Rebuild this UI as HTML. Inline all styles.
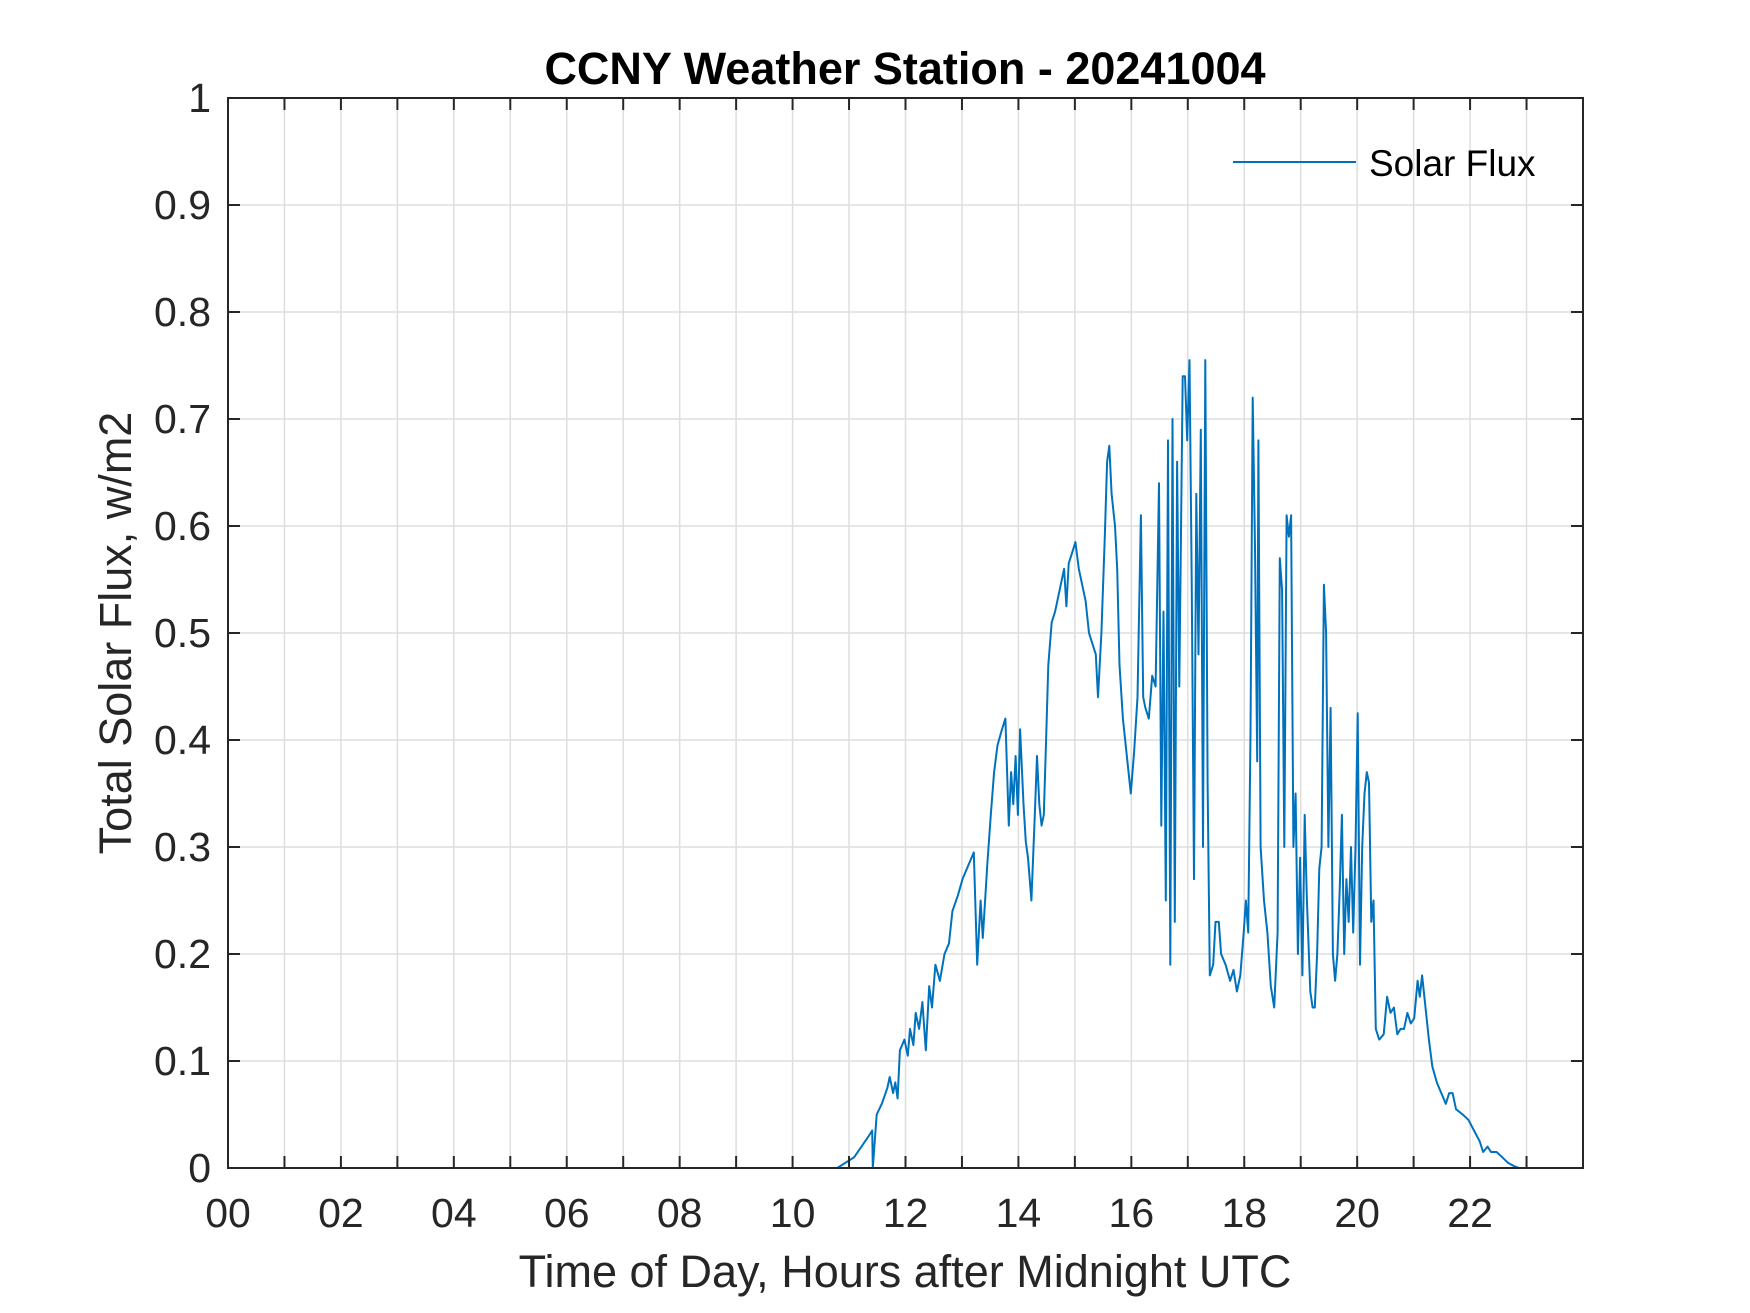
<!DOCTYPE html>
<html><head><meta charset="utf-8"><style>
html,body{margin:0;padding:0;background:#fff;}
svg{display:block;font-family:"Liberation Sans",Arial,sans-serif;}
</style></head><body>
<svg id="chart" width="1750" height="1313" viewBox="0 0 1750 1313">
<rect x="0" y="0" width="1750" height="1313" fill="#fff"/>
<g id="grid"></g>
<g id="series"></g>
<g id="axes"></g>
<text x="905" y="84" text-anchor="middle" font-size="45" font-weight="bold" fill="#000">CCNY Weather Station - 20241004</text>
<text x="905" y="1287" text-anchor="middle" font-size="45" fill="#262626">Time of Day, Hours after Midnight UTC</text>
<text transform="translate(131,633) rotate(-90)" text-anchor="middle" font-size="45" fill="#262626">Total Solar Flux, w/m2</text>
<g>
<line x1="1233" y1="162" x2="1356" y2="162" stroke="#0072BD" stroke-width="2"/>
<text x="1369" y="176" font-size="37" fill="#000">Solar Flux</text>
</g>
</svg>
<script>
const hours = [0,10.6,10.79,11.09,11.35,11.41,11.42,11.49,11.58,11.68,11.72,11.78,11.82,11.86,11.90,11.98,12.04,12.08,12.14,12.18,12.24,12.30,12.36,12.42,12.47,12.53,12.61,12.69,12.77,12.83,12.93,13.01,13.13,13.21,13.27,13.33,13.37,13.45,13.51,13.57,13.63,13.71,13.77,13.83,13.87,13.91,13.95,13.99,14.03,14.09,14.13,14.17,14.23,14.29,14.33,14.37,14.41,14.45,14.49,14.53,14.59,14.65,14.73,14.81,14.85,14.89,14.95,15.01,15.07,15.13,15.19,15.25,15.31,15.37,15.41,15.47,15.53,15.57,15.61,15.65,15.71,15.75,15.79,15.85,15.93,15.99,16.05,16.11,16.17,16.21,16.25,16.31,16.37,16.43,16.49,16.53,16.57,16.61,16.65,16.69,16.73,16.77,16.81,16.85,16.91,16.95,16.99,17.03,17.07,17.11,17.15,17.19,17.23,17.27,17.31,17.35,17.39,17.45,17.49,17.55,17.59,17.67,17.75,17.81,17.87,17.93,17.99,18.03,18.07,18.11,18.15,18.19,18.23,18.25,18.29,18.35,18.41,18.47,18.53,18.59,18.63,18.67,18.71,18.75,18.79,18.83,18.87,18.91,18.95,18.99,19.03,19.07,19.11,19.17,19.21,19.25,19.29,19.33,19.37,19.41,19.45,19.49,19.53,19.57,19.61,19.65,19.69,19.73,19.77,19.81,19.85,19.89,19.93,19.97,20.01,20.05,20.09,20.13,20.17,20.21,20.25,20.29,20.33,20.39,20.47,20.53,20.59,20.65,20.71,20.77,20.83,20.89,20.95,21.01,21.07,21.11,21.15,21.21,21.27,21.33,21.41,21.49,21.57,21.63,21.69,21.75,21.87,21.97,22.07,22.17,22.23,22.31,22.37,22.47,22.57,22.67,22.77,22.87,24];
const flux = [0,0,0,0.01,0.03,0.035,0,0.05,0.06,0.075,0.085,0.07,0.08,0.065,0.11,0.12,0.105,0.13,0.115,0.145,0.13,0.155,0.11,0.17,0.15,0.19,0.175,0.2,0.21,0.24,0.255,0.27,0.285,0.295,0.19,0.25,0.215,0.285,0.33,0.37,0.395,0.41,0.42,0.32,0.37,0.34,0.385,0.33,0.41,0.34,0.305,0.29,0.25,0.33,0.385,0.34,0.32,0.33,0.4,0.47,0.51,0.52,0.54,0.56,0.525,0.565,0.575,0.585,0.56,0.545,0.53,0.5,0.49,0.48,0.44,0.5,0.59,0.66,0.675,0.63,0.6,0.56,0.47,0.42,0.38,0.35,0.39,0.44,0.61,0.44,0.43,0.42,0.46,0.45,0.64,0.32,0.52,0.25,0.68,0.19,0.7,0.23,0.66,0.45,0.74,0.74,0.68,0.755,0.55,0.27,0.63,0.48,0.69,0.3,0.755,0.36,0.18,0.19,0.23,0.23,0.2,0.19,0.175,0.185,0.165,0.18,0.22,0.25,0.22,0.405,0.72,0.58,0.38,0.68,0.3,0.25,0.22,0.17,0.15,0.22,0.57,0.54,0.3,0.61,0.59,0.61,0.3,0.35,0.2,0.29,0.18,0.33,0.25,0.165,0.15,0.15,0.2,0.28,0.3,0.545,0.5,0.3,0.43,0.2,0.175,0.2,0.26,0.33,0.2,0.27,0.23,0.3,0.22,0.3,0.425,0.19,0.3,0.35,0.37,0.36,0.23,0.25,0.13,0.12,0.125,0.16,0.145,0.15,0.125,0.13,0.13,0.145,0.135,0.14,0.175,0.16,0.18,0.15,0.12,0.095,0.08,0.07,0.06,0.07,0.07,0.055,0.05,0.045,0.035,0.025,0.015,0.02,0.015,0.015,0.01,0.005,0.002,0,0];
const xTickLabels = ["00","02","04","06","08","10","12","14","16","18","20","22"];
const yTickLabels = ["0","0.1","0.2","0.3","0.4","0.5","0.6","0.7","0.8","0.9","1"];
const xMin = 0, xMax = 24, yMin = 0, yMax = 1;
const L = 228, R = 1583, T = 98, B = 1168;
const NS = "http://www.w3.org/2000/svg";
function xs(h){ return L + (h - xMin) / (xMax - xMin) * (R - L); }
function ys(v){ return B - (v - yMin) / (yMax - yMin) * (B - T); }
function mk(tag, attrs, parent){ const e = document.createElementNS(NS, tag); for (const k in attrs) e.setAttribute(k, attrs[k]); parent.appendChild(e); return e; }
const grid = document.getElementById('grid');
const axes = document.getElementById('axes');
for (let h = 1; h < 24; h++) {
  const g = mk('line', {x1: xs(h), x2: xs(h), y1: T, y2: B, stroke: '#dedede', 'stroke-width': 1.5}, grid);
  
  
  for (const yy of [[B, B - 12], [T, T + 12]]) {
    const t = mk('line', {x1: xs(h), x2: xs(h), y1: yy[0], y2: yy[1], stroke: '#262626', 'stroke-width': 2}, axes);
    
    
  }
}
yTickLabels.forEach((lab, i) => {
  const v = parseFloat(lab);
  if (v > yMin && v < yMax) {
    const g = mk('line', {x1: L, x2: R, y1: ys(v), y2: ys(v), stroke: '#dedede', 'stroke-width': 1.5}, grid);
    
    
    for (const xx of [[L, L + 12], [R, R - 12]]) {
      const t = mk('line', {x1: xx[0], x2: xx[1], y1: ys(v), y2: ys(v), stroke: '#262626', 'stroke-width': 2}, axes);
      
      
    }
  }
  const tx = mk('text', {x: 211, y: ys(v) + 14, 'text-anchor': 'end', 'font-size': 41, fill: '#262626'}, axes);
  tx.textContent = lab;
  
  
});
xTickLabels.forEach((lab) => {
  const h = parseFloat(lab);
  const tx = mk('text', {x: xs(h), y: 1227, 'text-anchor': 'middle', 'font-size': 41, fill: '#262626'}, axes);
  tx.textContent = lab;
  
  
});
const box = mk('rect', {x: L, y: T, width: R - L, height: B - T, fill: 'none', stroke: '#262626', 'stroke-width': 2}, axes);


const d = hours.map((h, i) => (i ? 'L' : 'M') + xs(h).toFixed(1) + ',' + ys(flux[i]).toFixed(1)).join(' ');
const line = mk('path', {d: d, fill: 'none', stroke: '#0072BD', 'stroke-width': 2, 'stroke-linejoin': 'round'}, document.getElementById('series'));


</script>
</body></html>
